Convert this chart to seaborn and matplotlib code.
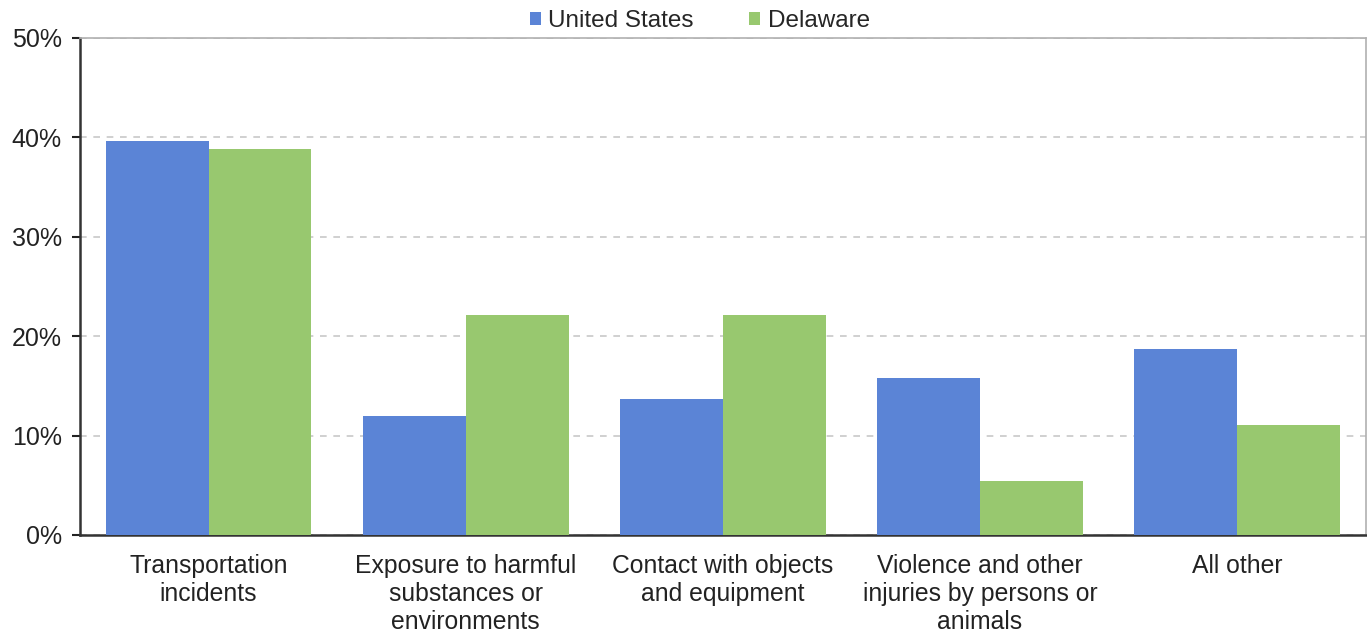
import pandas as pd
import seaborn as sns
import matplotlib.pyplot as plt
from matplotlib.ticker import PercentFormatter

# Data
categories = ['Transportation\nincidents',
              'Exposure to harmful\nsubstances or\nenvironments',
              'Contact with objects\nand equipment',
              'Violence and other\ninjuries by persons or\nanimals',
              'All other']
us_values = [39.6, 12.0, 13.7, 15.8, 18.7]
de_values = [38.8, 22.1, 22.1, 5.4, 11.1]

df = pd.DataFrame({
    'category': categories * 2,
    'region': ['United States'] * 5 + ['Delaware'] * 5,
    'share': us_values + de_values,
})

sns.set_style('white')
plt.rcParams['font.family'] = ['Liberation Sans', 'DejaVu Sans']

fig = plt.figure(figsize=(13.67, 6.32), dpi=100)
ax = fig.add_axes([0.0585, 0.1535, 0.9405, 0.7865])

sns.barplot(data=df, x='category', y='share', hue='region',
            palette=['#5B84D6', '#98C86F'], width=0.8, saturation=1,
            linewidth=0, ax=ax, zorder=3)

ax.set_ylim(0, 50)
ax.set_xlim(-0.5, 4.5)
ax.set_yticks([0, 10, 20, 30, 40, 50])
ax.yaxis.set_major_formatter(PercentFormatter(decimals=0))
ax.yaxis.grid(True, linestyle=(0, (4, 4)), color='#c8c8c8', linewidth=1.2, zorder=0)
ax.set_xlabel('')
ax.set_ylabel('')

ax.tick_params(axis='y', labelsize=18, colors='#222222', length=6, width=1.5, left=True, pad=7)
ax.tick_params(axis='x', labelsize=17.8, colors='#222222', length=0, pad=14)
for lbl in ax.get_xticklabels():
    lbl.set_linespacing(1.2)

for s in ['left', 'bottom']:
    ax.spines[s].set_color('#333333')
    ax.spines[s].set_linewidth(1.8)
for s in ['top', 'right']:
    ax.spines[s].set_color('#b0b0b0')
    ax.spines[s].set_linewidth(1.2)

leg = ax.legend(loc='center', bbox_to_anchor=(0.482, 1 + 17 / 497), ncol=2, frameon=False,
                fontsize=17.5, handlelength=0.45, handleheight=0.45, handletextpad=0.3,
                columnspacing=2.3, borderaxespad=0)

fig.savefig('out.png', dpi=100)
